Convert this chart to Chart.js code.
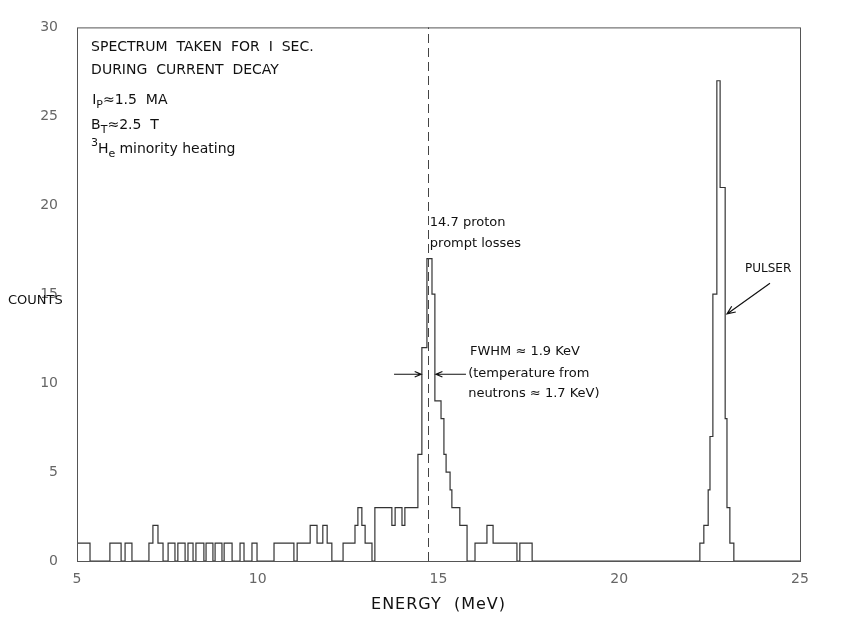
<!DOCTYPE html>
<html lang="en">
<head>
<meta charset="UTF-8">
<title>Spectrum - counts vs energy</title>
<style>
  html, body { margin: 0; padding: 0; background: #fff; }
  #wrap { width: 842px; height: 629px; }
</style>
<script src="https://cdn.jsdelivr.net/npm/chart.js@4"></script>
</head>
<body>
<div id="wrap"><canvas id="spec" width="842" height="629"></canvas></div>
<script>
  // histogram: counts[i] covers binEdges[i] .. binEdges[i+1] (MeV)
  const binEdges = [
    5.00, 5.36, 5.91, 6.22, 6.33, 6.52, 6.99, 7.10, 7.24, 7.38,
    7.52, 7.71, 7.79, 7.99, 8.07, 8.21, 8.29, 8.51, 8.57, 8.76,
    8.82, 9.01, 9.07, 9.29, 9.51, 9.62, 9.84, 9.98, 10.45, 11.00,
    11.09, 11.45, 11.64, 11.80, 11.92, 12.05, 12.36, 12.69, 12.77, 12.88,
    12.97, 13.16, 13.24, 13.71, 13.80, 13.99, 14.07, 14.43, 14.54, 14.68,
    14.82, 14.90, 15.07, 15.15, 15.21, 15.32, 15.37, 15.59, 15.79, 16.01,
    16.34, 16.51, 17.17, 17.25, 17.59, 22.23, 22.34, 22.46, 22.51, 22.59,
    22.70, 22.79, 22.93, 22.98, 23.06, 23.17, 25.00
  ];
  const counts = [
    1, 0, 1, 0, 1, 0, 1, 2, 1, 0,
    1, 0, 1, 0, 1, 0, 1, 0, 1, 0,
    1, 0, 1, 0, 1, 0, 1, 0, 1, 0,
    1, 2, 1, 2, 1, 0, 1, 2, 3, 2,
    1, 0, 3, 2, 3, 2, 3, 6, 12, 17,
    15, 9, 8, 6, 5, 4, 3, 2, 0, 1,
    2, 1, 0, 1, 0, 1, 2, 4, 7, 15,
    27, 21, 8, 3, 1, 0
  ];
  const xTicks = [5, 10, 15, 20, 25];
  const yTicks = [0, 5, 10, 15, 20, 25, 30];
  const protonLine = 14.7;

  const points = binEdges.map((e, i) => ({ x: e, y: i < counts.length ? counts[i] : 0 }));

  const FONT = '"DejaVu Sans", sans-serif';

  // text runs with sub/superscripts
  function drawParts(ctx, parts, x, y, size) {
    let cx = x;
    for (const p of parts) {
      const small = p.sub || p.sup;
      ctx.font = `${small ? Math.round(size * 0.75) : size}px ${FONT}`;
      const dy = p.sub ? size * 0.35 : p.sup ? -size * 0.42 : 0;
      ctx.fillText(p.t, cx, y + dy);
      cx += ctx.measureText(p.t).width + (p.gap || 0);
    }
  }

  function arrow(ctx, x1, y1, x2, y2, head) {
    const a = Math.atan2(y2 - y1, x2 - x1);
    ctx.beginPath();
    ctx.moveTo(x1, y1); ctx.lineTo(x2, y2);
    ctx.moveTo(x2 - head * Math.cos(a - 0.4), y2 - head * Math.sin(a - 0.4));
    ctx.lineTo(x2, y2);
    ctx.lineTo(x2 - head * Math.cos(a + 0.4), y2 - head * Math.sin(a + 0.4));
    ctx.stroke();
  }

  const notes = [
    { x: 5.39, y: 28.85, parts: [{ t: 'SPECTRUM  TAKEN  FOR  I  SEC.' }], size: 14 },
    { x: 5.39, y: 27.6, parts: [{ t: 'DURING  CURRENT  DECAY' }], size: 14 },
    { x: 5.42, y: 25.9, parts: [{ t: 'I' }, { t: 'P', sub: true }, { t: '≈1.5  MA' }], size: 14 },
    { x: 5.39, y: 24.5, parts: [{ t: 'B' }, { t: 'T', sub: true }, { t: '≈2.5  T' }], size: 14 },
    { x: 5.39, y: 23.15, parts: [{ t: '3', sup: true }, { t: 'H' }, { t: 'e', sub: true, gap: 4 }, { t: 'minority heating' }], size: 14 },
    { x: 14.76, y: 19.05, parts: [{ t: '14.7 proton' }], size: 13 },
    { x: 14.76, y: 17.83, parts: [{ t: 'prompt losses' }], size: 13 },
    { x: 15.87, y: 11.78, parts: [{ t: 'FWHM ≈ 1.9 KeV' }], size: 13 },
    { x: 15.82, y: 10.56, parts: [{ t: '(temperature from' }], size: 13 },
    { x: 15.82, y: 9.39, parts: [{ t: 'neutrons ≈ 1.7 KeV)' }], size: 13 },
    { x: 23.48, y: 16.44, parts: [{ t: 'PULSER' }], size: 12 }
  ];

  const arrows = [
    { from: [13.77, 10.5], to: [14.52, 10.5], head: 7 },
    { from: [15.76, 10.5], to: [14.93, 10.5], head: 7 },
    { from: [24.17, 15.61], to: [22.98, 13.89], head: 9 }
  ];

  const decor = {
    id: 'decor',
    afterDatasetsDraw(chart) {
      const { ctx, chartArea: a, scales: { x, y } } = chart;
      ctx.save();
      // frame
      ctx.strokeStyle = '#555';
      ctx.lineWidth = 1;
      ctx.strokeRect(a.left + 0.5, a.top + 0.5, a.right - a.left, a.bottom - a.top);
      // 14.7 MeV dashed marker
      const px = Math.round(x.getPixelForValue(protonLine)) + 0.5;
      ctx.setLineDash([9, 5]);
      ctx.strokeStyle = '#444';
      ctx.beginPath(); ctx.moveTo(px, a.bottom); ctx.lineTo(px, a.top); ctx.stroke();
      ctx.setLineDash([]);
      // annotations
      ctx.fillStyle = '#111';
      ctx.textBaseline = 'middle';
      ctx.textAlign = 'left';
      for (const n of notes) {
        drawParts(ctx, n.parts, x.getPixelForValue(n.x), y.getPixelForValue(n.y), n.size || 13);
      }
      ctx.strokeStyle = '#111';
      ctx.lineWidth = 1.2;
      for (const r of arrows) {
        arrow(ctx, x.getPixelForValue(r.from[0]), y.getPixelForValue(r.from[1]),
                   x.getPixelForValue(r.to[0]), y.getPixelForValue(r.to[1]), r.head);
      }
      // axis titles
      ctx.font = `13px ${FONT}`;
      ctx.fillText('COUNTS', 8, 301);
      ctx.font = `16px ${FONT}`;
      ctx.letterSpacing = '1px';
      ctx.textAlign = 'center';
      ctx.fillText('ENERGY  (MeV)', (a.left + a.right) / 2, 605);
      ctx.letterSpacing = '0px';
      ctx.restore();
    }
  };

  new Chart(document.getElementById('spec'), {
    type: 'line',
    data: {
      datasets: [{
        data: points,
        stepped: 'before',
        borderColor: '#333',
        borderWidth: 1.2,
        pointRadius: 0,
        fill: false
      }]
    },
    options: {
      responsive: false,
      animation: false,
      layout: { padding: { top: 21, right: 42, left: 0, bottom: 0 } },
      plugins: { legend: { display: false }, tooltip: { enabled: false } },
      scales: {
        x: {
          type: 'linear', min: 5, max: 25,
          afterBuildTicks: s => { s.ticks = xTicks.map(v => ({ value: v })); },
          afterFit: s => { s.height = 68; },
          grid: { display: false, drawTicks: false },
          border: { display: false },
          ticks: { padding: 10, color: '#666', font: { family: 'DejaVu Sans', size: 14 } }
        },
        y: {
          min: 0, max: 30,
          afterBuildTicks: s => { s.ticks = yTicks.map(v => ({ value: v })); },
          afterFit: s => { s.width = 77; },
          grid: { display: false, drawTicks: false },
          border: { display: false },
          ticks: { padding: 19, color: '#666', font: { family: 'DejaVu Sans', size: 14 } }
        }
      }
    },
    plugins: [decor]
  });
</script>
</body>
</html>
